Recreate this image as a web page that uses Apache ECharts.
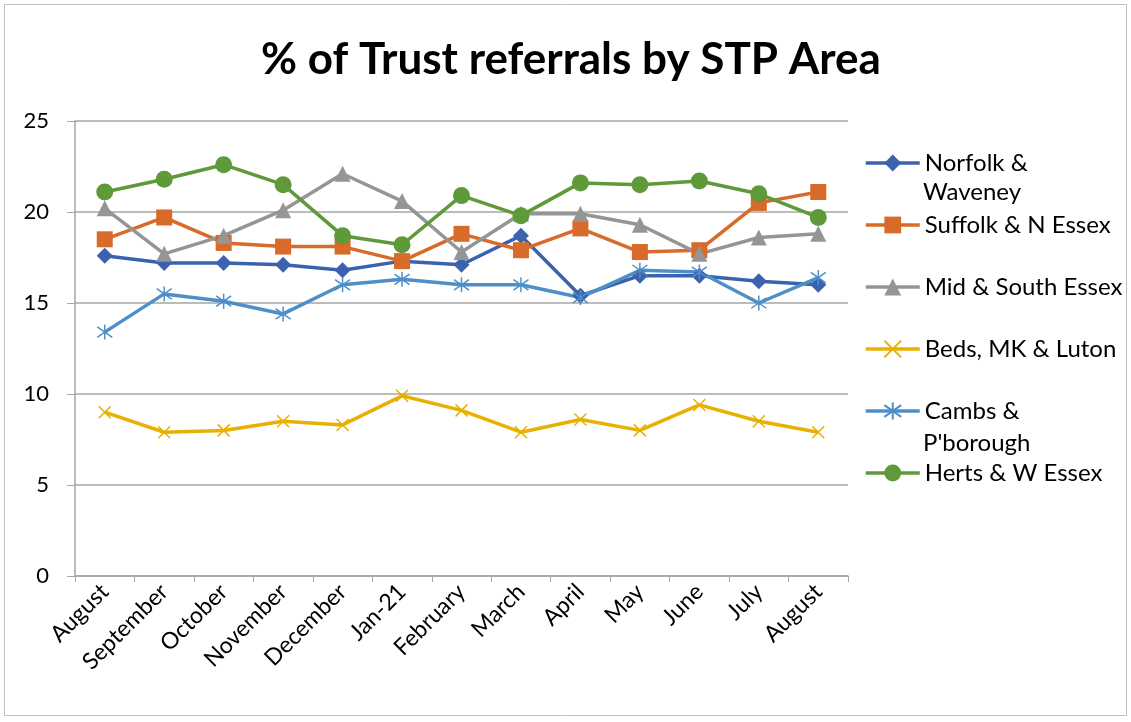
<!DOCTYPE html>
<html>
<head>
<meta charset="utf-8">
<script src="https://cdn.jsdelivr.net/npm/echarts@6/dist/echarts.min.js"></script>
<style>
  html, body { margin: 0; padding: 0; background: #fff; }
  #chart { width: 1131px; height: 722px; }
</style>
</head>
<body>
<div id="chart"></div>
<script>
// months shown on the x axis
var months = ['August', 'September', 'October', 'November', 'December', 'Jan-21',
  'February', 'March', 'April', 'May', 'June', 'July', 'August']

var norfolk = [17.6, 17.2, 17.2, 17.1, 16.8, 17.3, 17.1, 18.7, 15.4, 16.5, 16.5, 16.2, 16.0]
var suffolk = [18.5, 19.7, 18.3, 18.1, 18.1, 17.3, 18.8, 17.9, 19.1, 17.8, 17.9, 20.5, 21.1]
var midSouth = [20.2, 17.7, 18.7, 20.1, 22.1, 20.6, 17.8, 19.9, 19.9, 19.3, 17.7, 18.6, 18.8]
var beds = [9.0, 7.9, 8.0, 8.5, 8.3, 9.9, 9.1, 7.9, 8.6, 8.0, 9.4, 8.5, 7.9]
var cambs = [13.4, 15.5, 15.1, 14.4, 16.0, 16.3, 16.0, 16.0, 15.3, 16.8, 16.7, 15.0, 16.4]
var herts = [21.1, 21.8, 22.6, 21.5, 18.7, 18.2, 20.9, 19.8, 21.6, 21.5, 21.7, 21.0, 19.7]

var yTicks = { min: 0, max: 25, interval: 5 }

var font = 'Lato, "Open Sans", sans-serif'
var gridGrey = '#a6a6a6'

var crossPath = 'path://M0,0L10,10M10,0L0,10'
var starPath = 'path://M5,0L5,10M0,1.5L10,8.5M10,1.5L0,8.5'

function linha(nome, dados, cor, simbolo, tamanho, vazado) {
  var s = {
    name: nome,
    type: 'line',
    data: dados,
    symbol: simbolo,
    symbolSize: tamanho,
    showSymbol: true,
    lineStyle: { color: cor, width: 3.5 },
    itemStyle: { color: cor },
    emphasis: { disabled: true }
  }
  if (vazado) {
    s.itemStyle = { color: 'rgba(0,0,0,0)', borderColor: cor, borderWidth: 1.5 }
  }
  return s
}

var chart = echarts.init(document.getElementById('chart'))

var option = {
  animation: false,
  backgroundColor: '#fff',
  title: {
    text: '% of Trust referrals by STP Area',
    left: 566,
    top: 33,
    textAlign: 'center',
    textStyle: { fontFamily: font, fontSize: 44, fontWeight: 'bold', color: '#000' }
  },
  grid: { left: 75, right: 283, top: 121, bottom: 146 },
  legend: {
    orient: 'vertical',
    left: 864,
    top: 148.5,
    padding: 0,
    itemWidth: 54,
    itemHeight: 21,
    itemGap: 33,
    lineStyle: { width: 3.5 },
    textStyle: { fontFamily: font, fontSize: 24, color: '#000', lineHeight: 29 },
    formatter: function (n) {
      if (n === 'Norfolk & Waveney') return 'Norfolk &'
      if (n === "Cambs & P'borough") return 'Cambs &'
      return n
    }
  },
  graphic: [
    { type: 'rect', shape: { x: 4.5, y: 4.5, width: 1122, height: 711 },
      style: { fill: 'none', stroke: '#bfbfbf', lineWidth: 1 }, silent: true },
    { type: 'text', x: 923, y: 192,
      style: { text: 'Waveney', fontFamily: font, fontSize: 24, fill: '#000', verticalAlign: 'middle' } },
    { type: 'text', x: 923, y: 443,
      style: { text: "P'borough", fontFamily: font, fontSize: 24, fill: '#000', verticalAlign: 'middle' } }
  ],
  xAxis: {
    type: 'category',
    data: months,
    boundaryGap: true,
    axisLine: { lineStyle: { color: gridGrey, width: 1.5 } },
    axisTick: { show: true, interval: 0, length: 6, lineStyle: { color: gridGrey } },
    axisLabel: { interval: 0, rotate: 45, margin: 12, fontFamily: font, fontSize: 23, color: '#000' }
  },
  yAxis: {
    type: 'value',
    min: yTicks.min,
    max: yTicks.max,
    interval: yTicks.interval,
    axisLine: { show: true, lineStyle: { color: gridGrey, width: 1.5 } },
    axisTick: { show: true, length: 8, lineStyle: { color: gridGrey } },
    splitLine: { lineStyle: { color: gridGrey, width: 1.5 } },
    axisLabel: { margin: 26, fontFamily: font, fontSize: 22, color: '#000' }
  },
  series: [
    linha('Norfolk & Waveney', norfolk, '#3a62ae', 'diamond', 16),
    linha('Suffolk & N Essex', suffolk, '#d86b29', 'rect', 16),
    linha('Mid & South Essex', midSouth, '#959595', 'triangle', 16),
    linha('Beds, MK & Luton', beds, '#e8b000', crossPath, 12, true),
    linha("Cambs & P'borough", cambs, '#4f8fc8', starPath, 15, true),
    linha('Herts & W Essex', herts, '#5e993a', 'circle', 17)
  ]
}

chart.setOption(option)
</script>
</body>
</html>
